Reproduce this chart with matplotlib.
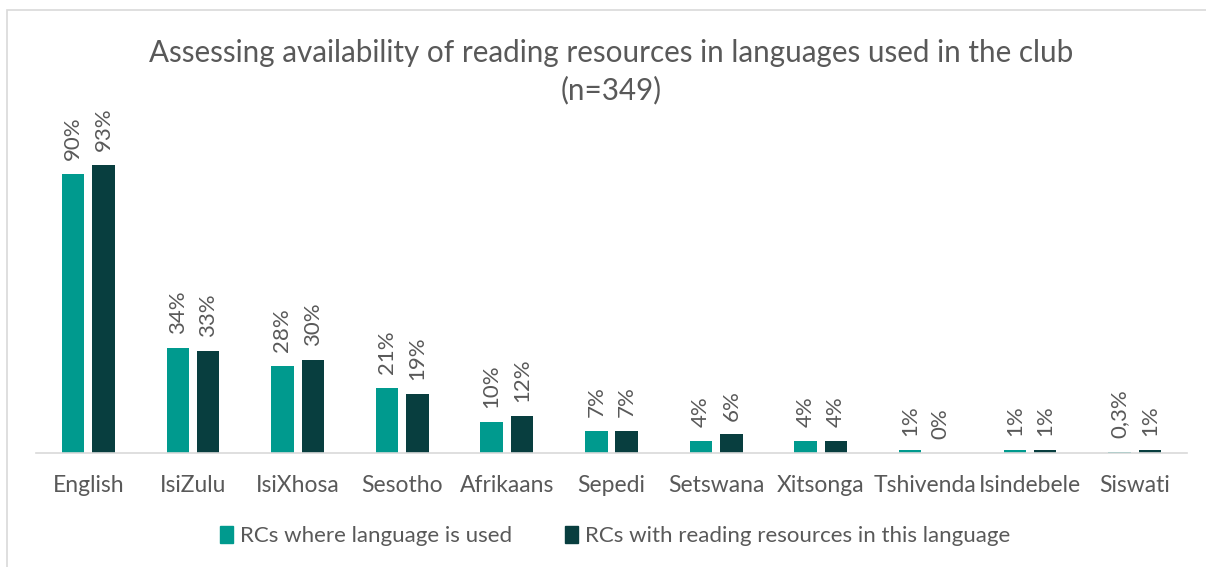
import matplotlib
matplotlib.use("Agg")
import matplotlib.pyplot as plt
import numpy as np
from matplotlib.patches import Rectangle

plt.rcParams['font.family'] = ['Lato', 'DejaVu Sans']

categories = ["English", "IsiZulu", "IsiXhosa", "Sesotho", "Afrikaans", "Sepedi",
              "Setswana", "Xitsonga", "Tshivenda", "Isindebele", "Siswati"]
used = [90, 34, 28, 21, 10, 7, 4, 4, 1, 1, 0.3]
resources = [93, 33, 30, 19, 12, 7, 6, 4, 0, 1, 1]
series_names = ["RCs where language is used", "RCs with reading resources in this language"]
title = "Assessing availability of reading resources in languages used in the club\n(n=349)"

c_used = "#009A8E"
c_res = "#083E3F"
text_c = "#595959"

def fmt(v):
    if v < 1 and v > 0:
        return ("%.1f" % v).replace(".", ",") + "%"
    return "%d%%" % round(v)

fig = plt.figure(figsize=(12.06, 5.67), dpi=100)
ax = fig.add_axes([36/1206, 1 - 453/567, (1187-36)/1206, (453-95)/567])

x = np.arange(len(categories))
w = 0.215
off = 0.145
b1 = ax.bar(x - off, used, w, color=c_used)
b2 = ax.bar(x + off, resources, w, color=c_res)

for bars, vals in ((b1, used), (b2, resources)):
    for b, v in zip(bars, vals):
        ax.annotate(fmt(v), (b.get_x() + b.get_width()/2, b.get_height()),
                    xytext=(0, 10), textcoords="offset points", rotation=90,
                    ha="center", va="bottom", fontsize=16, color=text_c)

ax.set_xlim(-0.5, len(categories) - 0.5)
ax.set_ylim(0, 115.5)
ax.set_xticks(x)
ax.set_xticklabels(categories, fontsize=16.5, color=text_c)
ax.tick_params(axis="x", length=0, pad=16)
ax.set_yticks([])
for s in ("top", "right", "left"):
    ax.spines[s].set_visible(False)
ax.spines["bottom"].set_color("#D9D9D9")
ax.spines["bottom"].set_linewidth(1.2)

fig.text(611/1206, 1 - 72/567, title, ha="center", va="center", fontsize=21.3,
         color=text_c, linespacing=1.38)

handles = [Rectangle((0, 0), 1, 1, color=c_used), Rectangle((0, 0), 1, 1, color=c_res)]
fig.legend(handles, series_names, loc="center", bbox_to_anchor=(615/1206, 1 - 536/567),
           ncol=2, frameon=False, fontsize=16, handlelength=0.6, handleheight=0.8,
           handletextpad=0.3, columnspacing=2.4, labelcolor=text_c)

border = Rectangle((7/1206, -0.5), 2.0, 1.5 - 10/567, transform=fig.transFigure,
                   fill=False, edgecolor="#D9D9D9", linewidth=1.2)
fig.patches.append(border)

fig.savefig("out.png", dpi=100, facecolor="white")
